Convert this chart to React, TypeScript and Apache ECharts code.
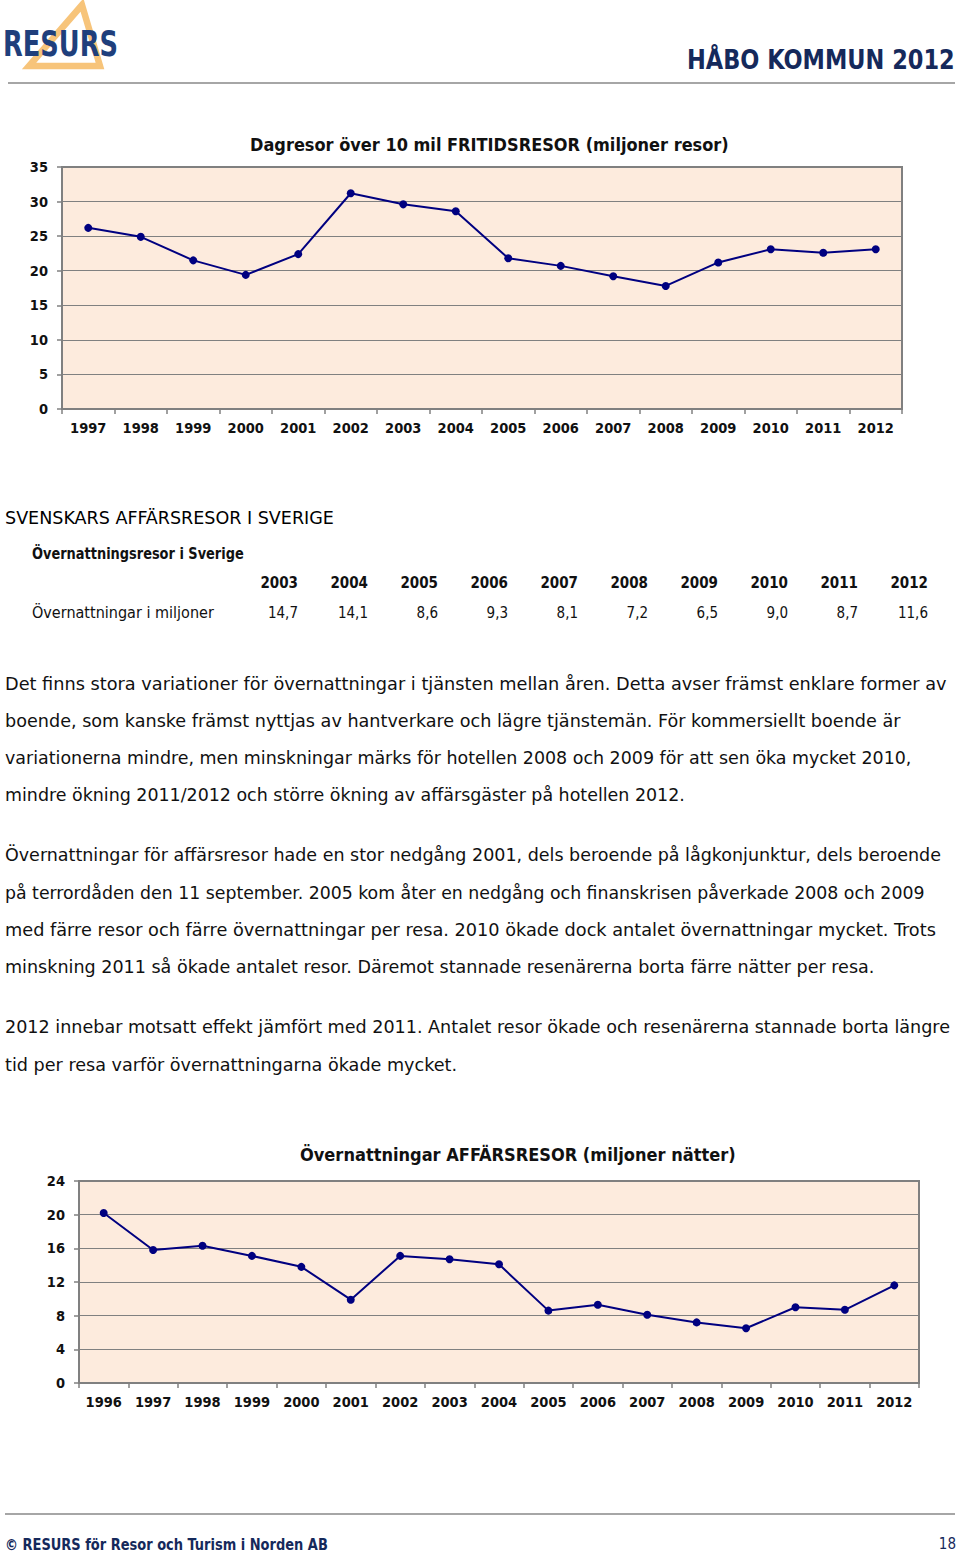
import React, { useEffect, useRef } from "react";
import * as echarts from "echarts";

// ---------- data ----------
const leisureYears = ["1997", "1998", "1999", "2000", "2001", "2002", "2003", "2004", "2005", "2006", "2007", "2008", "2009", "2010", "2011", "2012"];
const leisureTrips = [26.2, 24.9, 21.5, 19.4, 22.4, 31.2, 29.6, 28.6, 21.8, 20.7, 19.2, 17.8, 21.2, 23.1, 22.6, 23.1];

const businessYears = ["1996", "1997", "1998", "1999", "2000", "2001", "2002", "2003", "2004", "2005", "2006", "2007", "2008", "2009", "2010", "2011", "2012"];
const businessNights = [20.2, 15.8, 16.3, 15.1, 13.8, 9.9, 15.1, 14.7, 14.1, 8.6, 9.3, 8.1, 7.2, 6.5, 9.0, 8.7, 11.6];

const tableYears = ["2003", "2004", "2005", "2006", "2007", "2008", "2009", "2010", "2011", "2012"];
const tableValues = ["14,7", "14,1", "8,6", "9,3", "8,1", "7,2", "6,5", "9,0", "8,7", "11,6"];

const title1 = "Dagresor över 10 mil FRITIDSRESOR (miljoner resor)";
const title2 = "Övernattningar AFFÄRSRESOR (miljoner nätter)";

const paragraphs: string[][] = [
  [
    "Det finns stora variationer för övernattningar i tjänsten mellan åren. Detta avser främst enklare former av",
    "boende, som kanske främst nyttjas av hantverkare och lägre tjänstemän. För kommersiellt boende är",
    "variationerna mindre, men minskningar märks för hotellen 2008 och 2009 för att sen öka mycket 2010,",
    "mindre ökning 2011/2012 och större ökning av affärsgäster på hotellen 2012.",
  ],
  [
    "Övernattningar för affärsresor hade en stor nedgång 2001, dels beroende på lågkonjunktur, dels beroende",
    "på terrordåden den 11 september. 2005 kom åter en nedgång och finanskrisen påverkade 2008 och 2009",
    "med färre resor och färre övernattningar per resa. 2010 ökade dock antalet övernattningar mycket. Trots",
    "minskning 2011 så ökade antalet resor. Däremot stannade resenärerna borta färre nätter per resa.",
  ],
  [
    "2012 innebar motsatt effekt jämfört med 2011. Antalet resor ökade och resenärerna stannade borta längre",
    "tid per resa varför övernattningarna ökade mycket.",
  ],
];
const paragraphRightEdges = [[947, 901, 912, 685], [941, 925, 936, 875], [951, 457]];
const paragraphTops = [683, 855, 1027];

// ---------- styling ----------
const FONT = '"DejaVu Sans Condensed", "DejaVu Sans", sans-serif';
const NAVY = "#000080";
const PEACH = "#FDEBDD";
const GRIDGRAY = "#808080";
const TEXT = "#111111";

let measureCtx: CanvasRenderingContext2D | null = null;
function measure(text: string, font: string): number {
  if (!measureCtx) {
    const c = document.createElement("canvas");
    measureCtx = c.getContext("2d");
  }
  measureCtx!.font = font;
  return measureCtx!.measureText(text).width;
}

function fitText(text: string, left: number, right: number, cy: number, size: number, weight: string, fill: string) {
  const font = `${weight} ${size}px ${FONT}`;
  const w = measure(text, font);
  const s = w > 0 ? (right - left) / w : 1;
  return {
    type: "text",
    x: left,
    y: cy,
    scaleX: s,
    style: { text, font, fill, align: "left", verticalAlign: "middle", textAlign: "left", textVerticalAlign: "middle" },
  };
}

function plainText(text: string, x: number, cy: number, size: number, weight: string, fill: string, align: string) {
  const font = `${weight} ${size}px ${FONT}`;
  return {
    type: "text",
    x,
    y: cy,
    style: { text, font, fill, align, verticalAlign: "middle", textAlign: align, textVerticalAlign: "middle" },
  };
}

function axisPair(gridIndex: number, cats: string[], max: number, interval: number) {
  const xAxis = {
    type: "category",
    gridIndex,
    data: cats,
    boundaryGap: true,
    axisLine: { show: true, lineStyle: { color: GRIDGRAY, width: 1.5 } },
    axisTick: { show: true, length: 5, alignWithLabel: false, lineStyle: { color: GRIDGRAY, width: 1.5 } },
    axisLabel: { color: "#111", fontFamily: FONT, fontWeight: "bold", fontSize: 14.5, margin: 11 },
    splitLine: { show: false },
  };
  const yAxis = {
    type: "value",
    gridIndex,
    min: 0,
    max,
    interval,
    axisLine: { show: true, lineStyle: { color: GRIDGRAY, width: 1.5 } },
    axisTick: { show: true, length: 5, lineStyle: { color: GRIDGRAY, width: 1.5 } },
    axisLabel: { color: "#111", fontFamily: FONT, fontWeight: "bold", fontSize: 14.5, margin: 14 },
    splitLine: { show: true, lineStyle: { color: GRIDGRAY, width: 1.2 } },
  };
  return { xAxis, yAxis };
}

export default function App() {
  const ref = useRef<HTMLDivElement>(null);

  useEffect(() => {
    if (!ref.current) return;
    const chart = echarts.init(ref.current, null, { renderer: "svg" });

    const a1 = axisPair(0, leisureYears, 35, 5);
    const a2 = axisPair(1, businessYears, 24, 4);

    const graphics: any[] = [];
    // logo
    graphics.push({
      type: "polygon",
      shape: { points: [[82, 5], [29, 66], [100, 66]] },
      style: { fill: "none", stroke: "#F7C47A", lineWidth: 6.5, lineJoin: "miter" },
    });
    graphics.push(fitText("RESURS", 3, 118, 44, 36, "bold", "#1F3F7C"));
    graphics.push(fitText("HÅBO KOMMUN 2012", 687, 955, 60, 26, "bold", "#15295B"));
    graphics.push({ type: "line", shape: { x1: 8, y1: 83, x2: 955, y2: 83 }, style: { stroke: "#a6a6a6", lineWidth: 2 } });

    // chart titles
    graphics.push(fitText(title1, 250, 729, 145, 17, "bold", "#111"));
    graphics.push(fitText(title2, 300, 736, 1155, 17, "bold", "#111"));

    // section
    graphics.push(fitText("SVENSKARS AFFÄRSRESOR I SVERIGE", 5, 334, 518, 18, "normal", "#000"));
    graphics.push(fitText("Övernattningsresor i Sverige", 32, 244, 553, 15, "bold", TEXT));
    graphics.push(fitText("Övernattningar i miljoner", 32, 214, 613, 15, "normal", TEXT));
    tableYears.forEach((y, i) => {
      graphics.push(plainText(y, 298 + 70 * i, 583, 15, "bold", TEXT, "right"));
    });
    tableValues.forEach((v, i) => {
      graphics.push(plainText(v, 298 + 70 * i, 613, 15, "normal", TEXT, "right"));
    });

    // paragraphs
    paragraphs.forEach((lines, p) => {
      lines.forEach((line, i) => {
        graphics.push(fitText(line, 5, paragraphRightEdges[p][i], paragraphTops[p] + i * 37.4, 18, "normal", TEXT));
      });
    });

    // footer
    graphics.push({ type: "line", shape: { x1: 5, y1: 1514, x2: 955, y2: 1514 }, style: { stroke: "#a6a6a6", lineWidth: 2 } });
    graphics.push(fitText("© RESURS för Resor och Turism i Norden AB", 5, 328, 1544, 15, "bold", "#15295B"));
    graphics.push(plainText("18", 956, 1544, 15, "normal", "#15295B", "right"));

    chart.setOption({
      animation: false,
      backgroundColor: "#ffffff",
      grid: [
        { left: 62, top: 167, width: 840, height: 242, show: true, backgroundColor: PEACH, borderColor: GRIDGRAY, borderWidth: 2 },
        { left: 79, top: 1181, width: 840, height: 202, show: true, backgroundColor: PEACH, borderColor: GRIDGRAY, borderWidth: 2 },
      ],
      xAxis: [a1.xAxis, a2.xAxis],
      yAxis: [a1.yAxis, a2.yAxis],
      series: [
        {
          type: "line",
          xAxisIndex: 0,
          yAxisIndex: 0,
          data: leisureTrips,
          symbol: "circle",
          symbolSize: 8,
          lineStyle: { color: NAVY, width: 2 },
          itemStyle: { color: NAVY },
        },
        {
          type: "line",
          xAxisIndex: 1,
          yAxisIndex: 1,
          data: businessNights,
          symbol: "circle",
          symbolSize: 8,
          lineStyle: { color: NAVY, width: 2 },
          itemStyle: { color: NAVY },
        },
      ],
      graphic: graphics,
    });

    return () => chart.dispose();
  }, []);

  return (
    <div
      ref={ref}
      style={{ position: "absolute", left: 0, top: 0, width: 960, height: 1556, background: "#fff" }}
    />
  );
}
